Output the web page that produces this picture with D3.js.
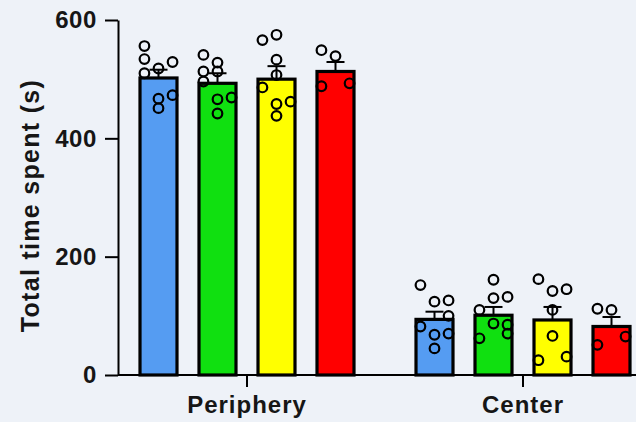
<!DOCTYPE html>
<html>
<head>
<meta charset="utf-8">
<script src="https://cdn.jsdelivr.net/npm/d3@7"></script>
<style>
  html, body { margin: 0; padding: 0; background: #eef2f8; }
  svg { display: block; }
  text { font-family: "Liberation Sans", Arial, sans-serif; font-weight: bold; fill: #161616; }
</style>
</head>
<body>
<svg id="chart" width="636" height="422"></svg>
<script>
// Zones of the open field and the four animal groups
const zones = ["Periphery", "Center"];
const groups = ["g1", "g2", "g3", "g4"];
const groupColors = ["#559cf2", "#10e010", "#ffff00", "#ff0000"];

// Group means (s) per zone, in group order
const meanPeriphery = [502, 493, 500, 513];
const meanCenter = [94, 101, 93, 82];

// Standard error of the mean per zone
const semPeriphery = [14, 17, 22, 16];
const semCenter = [13, 14, 22, 16];

// Individual animals (s) per zone and group
const dotsPeriphery = [
  [556, 534, 529, 518, 510, 467, 451, 473],
  [541, 513, 528, 513, 496, 466, 469, 442],
  [566, 575, 533, 507, 486, 458, 438, 462],
  [549, 539, 488, 493]
];
const dotsCenter = [
  [152, 124, 126, 100, 82, 68, 45, 70],
  [161, 130, 132, 110, 87, 85, 70, 62],
  [162, 142, 145, 110, 66, 25, 31],
  [112, 110, 51, 65]
];
// Scatter column of each animal within its bar (-1 left, 0 middle, 1 right)
const lanesPeriphery = [
  [-1, -1, 1, 0, -1, 0, 0, 1],
  [-1, -1, 0, 0, -1, 0, 1, 0],
  [-1, 0, 0, 0, -1, 0, 0, 1],
  [-1, 0, -1, 1]
];
const lanesCenter = [
  [-1, 0, 1, 1, -1, 0, 0, 1],
  [0, 0, 1, -1, 0, 1, 1, -1],
  [-1, 0, 1, 0, 0, -1, 1],
  [-1, 0, -1, 1]
];

const yTicks = [0, 200, 400, 600];

const zoneData = [
  { zone: "Periphery", means: meanPeriphery, sems: semPeriphery, dots: dotsPeriphery, lanes: lanesPeriphery },
  { zone: "Center", means: meanCenter, sems: semCenter, dots: dotsCenter, lanes: lanesCenter }
];

const svg = d3.select("#chart");
const W = 636, H = 422;
const margin = { left: 118, top: 20, bottom: 47 };

const y = d3.scaleLinear().domain([0, 600]).range([H - margin.bottom, margin.top]);

// Zones share a fixed step; the axis starts at the y axis and runs to the right edge
const x0 = d3.scaleBand().domain(zones).range([109, 661]).padding(0);
const x1 = d3.scaleBand().domain(groups).range([-118, 118]).paddingInner(0.373).paddingOuter(0.1865);
const laneStep = x1.bandwidth() * 0.38;

const color = d3.scaleOrdinal().domain(groups).range(groupColors);

// Bars, error bars and animals
const zoneG = svg.selectAll("g.zone").data(zoneData).join("g")
  .attr("class", "zone")
  .attr("transform", d => `translate(${x0(d.zone) + x0.bandwidth() / 2},0)`);

const barG = zoneG.selectAll("g.bar")
  .data(d => groups.map((g, i) => ({
    group: g, mean: d.means[i], sem: d.sems[i], dots: d.dots[i], lanes: d.lanes[i]
  })))
  .join("g").attr("class", "bar");

barG.append("rect")
  .attr("x", d => x1(d.group))
  .attr("width", x1.bandwidth())
  .attr("y", d => y(d.mean))
  .attr("height", d => y(0) - y(d.mean))
  .attr("fill", d => color(d.group))
  .attr("stroke", "#000")
  .attr("stroke-width", 3.2);

const capHalf = 9;
barG.append("line")
  .attr("x1", d => x1(d.group) + x1.bandwidth() / 2)
  .attr("x2", d => x1(d.group) + x1.bandwidth() / 2)
  .attr("y1", d => y(d.mean))
  .attr("y2", d => y(d.mean + d.sem))
  .attr("stroke", "#000").attr("stroke-width", 2);
barG.append("line")
  .attr("x1", d => x1(d.group) + x1.bandwidth() / 2 - capHalf)
  .attr("x2", d => x1(d.group) + x1.bandwidth() / 2 + capHalf)
  .attr("y1", d => y(d.mean + d.sem))
  .attr("y2", d => y(d.mean + d.sem))
  .attr("stroke", "#000").attr("stroke-width", 2);

barG.selectAll("circle")
  .data(d => d.dots.map((v, k) => ({ v, lane: d.lanes[k], cx: x1(d.group) + x1.bandwidth() / 2 })))
  .join("circle")
  .attr("cx", d => d.cx + d.lane * laneStep)
  .attr("cy", d => y(d.v))
  .attr("r", 4.8)
  .attr("fill", "none")
  .attr("stroke", "#000")
  .attr("stroke-width", 2.2);

// Y axis
const yAxis = svg.append("g")
  .attr("transform", `translate(${margin.left},0)`)
  .call(d3.axisLeft(y).tickValues(yTicks).tickSize(13).tickPadding(8).tickSizeOuter(0));
yAxis.select(".domain").attr("stroke", "#000").attr("stroke-width", 2);
yAxis.selectAll(".tick line").attr("stroke", "#000").attr("stroke-width", 2);
yAxis.selectAll(".tick text").attr("font-size", 24).attr("fill", "#161616")
  .attr("letter-spacing", 0.6)
  .attr("font-family", "Liberation Sans, Arial, sans-serif").attr("font-weight", "bold");

// X axis
const xAxis = svg.append("g")
  .attr("transform", `translate(0,${y(0)})`)
  .call(d3.axisBottom(x0).tickSize(12).tickPadding(9).tickSizeOuter(0));
xAxis.select(".domain").remove();
xAxis.append("line")
  .attr("x1", margin.left).attr("x2", W)
  .attr("stroke", "#000").attr("stroke-width", 2);
xAxis.selectAll(".tick line").attr("stroke", "#000").attr("stroke-width", 2);
xAxis.selectAll(".tick text").attr("font-size", 24).attr("fill", "#161616")
  .attr("letter-spacing", 1)
  .attr("font-family", "Liberation Sans, Arial, sans-serif").attr("font-weight", "bold");

// Y axis title
svg.append("text")
  .attr("transform", `translate(39,${(margin.top + y(0)) / 2 + 8}) rotate(-90)`)
  .attr("text-anchor", "middle")
  .attr("font-size", 25)
  .attr("letter-spacing", 1.3)
  .text("Total time spent (s)");
</script>
</body>
</html>
